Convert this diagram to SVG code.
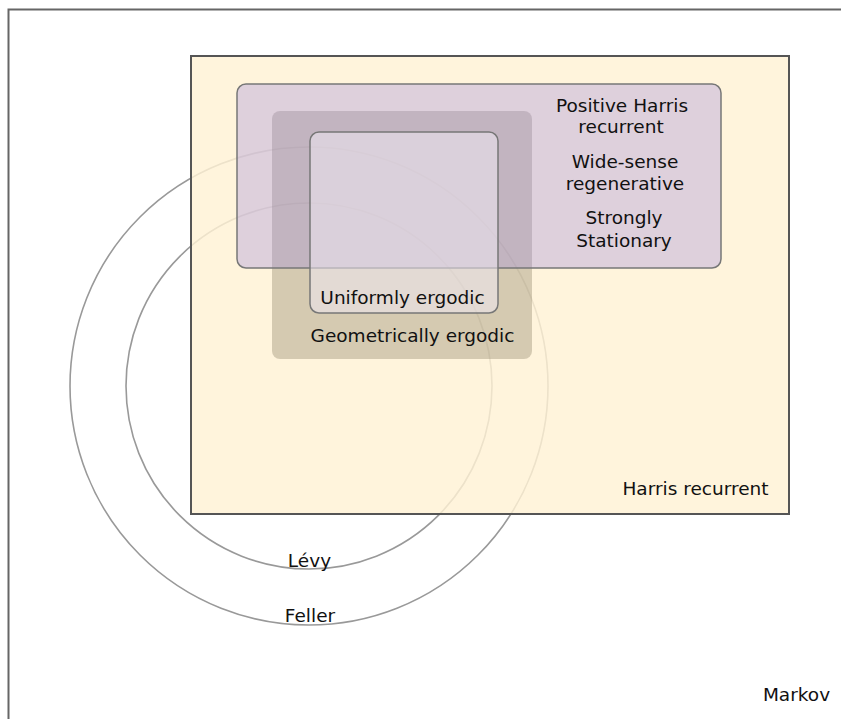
<svg xmlns="http://www.w3.org/2000/svg" width="841" height="719" viewBox="0 0 841 719">
<style>
text{font-family:"DejaVu Sans","Verdana",sans-serif;font-size:18.5px;fill:#111;text-anchor:middle}
.circ{fill:none;stroke:#999;stroke-width:1.6}
</style>
<rect x="0" y="0" width="841" height="719" fill="#fff"/>
<g id="markov">
<rect x="8.5" y="9.5" width="900" height="800" fill="#fff" stroke="#666" stroke-width="2"/>
<text x="796.5" y="701">Markov</text>
</g>
<g id="feller">
<circle class="circ" cx="309" cy="386" r="239"/>
<text x="310" y="622">Feller</text>
</g>
<g id="levy">
<circle class="circ" cx="309" cy="386" r="183"/>
<text x="309.5" y="567">Lévy</text>
</g>
<g id="harris-recurrent">
<rect x="191" y="56" width="598" height="458" fill="#fff2d4" fill-opacity="0.82" stroke="#555" stroke-width="2"/>
<text x="695.5" y="495">Harris recurrent</text>
</g>
<g id="geometrically-ergodic">
<rect x="272" y="111" width="260" height="248" rx="8" fill="#90866b" fill-opacity="0.38"/>
<text x="412.5" y="342">Geometrically ergodic</text>
</g>
<g id="positive-harris">
<rect x="237" y="84" width="484" height="184" rx="9" fill="#a08cde" fill-opacity="0.35" stroke="#777" stroke-width="1.5"/>
<text x="622" y="112">Positive Harris</text>
<text x="621" y="133">recurrent</text>
<text x="625" y="168">Wide-sense</text>
<text x="625" y="190">regenerative</text>
<text x="624" y="224">Strongly</text>
<text x="624" y="246.5">Stationary</text>
</g>
<g id="uniformly-ergodic">
<rect x="310" y="132" width="188" height="181" rx="9" fill="#eee7f0" fill-opacity="0.55" stroke="#777" stroke-width="1.5"/>
<text x="402.5" y="304">Uniformly ergodic</text>
</g>
<g id="connectors"/>
</svg>
